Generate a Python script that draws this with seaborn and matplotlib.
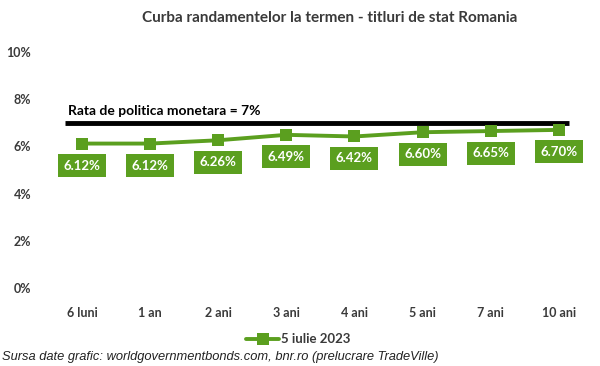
import matplotlib
matplotlib.use("Agg")
import matplotlib.pyplot as plt
import seaborn as sns
import pandas as pd

maturities = ["6 luni", "1 an", "2 ani", "3 ani", "4 ani", "5 ani", "7 ani", "10 ani"]
yields = [6.12, 6.12, 6.26, 6.49, 6.42, 6.60, 6.65, 6.70]
yield_labels = ["6.12%", "6.12%", "6.26%", "6.49%", "6.42%", "6.60%", "6.65%", "6.70%"]
series_name = "5 iulie 2023"
policy_rate = 7
policy_label = "Rata de politica monetara = 7%"
y_ticks = [0, 2, 4, 6, 8, 10]
title = "Curba randamentelor la termen - titluri de stat Romania"
source = "Sursa date grafic: worldgovernmentbonds.com, bnr.ro (prelucrare TradeVille)"

sns.set_theme(style="white")
plt.rcParams["font.family"] = ["Lato", "DejaVu Sans"]

GREEN = "#5b9f1f"
TXT = "#3a3a3a"

df = pd.DataFrame({"Maturitate": maturities, "Randament": yields, "Serie": series_name})

fig = plt.figure(figsize=(6, 3.66), dpi=100)
ax = fig.add_axes([0.08, 0.213, 0.908, 0.645])

sns.lineplot(data=df, x="Maturitate", y="Randament", hue="Serie", palette=[GREEN],
             marker="s", markersize=8, linewidth=2.8, markeredgewidth=0, ax=ax,
             sort=False)

ax.hlines(policy_rate, -0.25, 7.15, color="black", linewidth=3.5, zorder=1)
ax.text(-0.2, policy_rate + 0.25, policy_label, fontsize=10, fontweight="bold",
        color="black", ha="left", va="bottom")

for i, (v, lab) in enumerate(zip(yields, yield_labels)):
    ax.annotate(lab, (i, v), xytext=(0, -22), textcoords="offset pixels",
                ha="center", va="center", fontsize=9.5, fontweight="bold", color="white",
                bbox=dict(boxstyle="square,pad=0.42", fc=GREEN, ec="none"))

ax.set_xlim(-0.5, 7.5)
ax.set_ylim(0, 10)
ax.set_yticks(y_ticks)
ax.set_yticklabels([f"{t}%" for t in y_ticks])
ax.set_xlabel("")
ax.set_ylabel("")
for s in ax.spines.values():
    s.set_visible(False)
ax.tick_params(axis="both", length=0, labelsize=9, labelcolor=TXT)
ax.tick_params(axis="y", pad=12)
ax.tick_params(axis="x", pad=14)
for lbl in ax.get_xticklabels() + ax.get_yticklabels():
    lbl.set_fontweight("bold")

handles, labels = ax.get_legend_handles_labels()
ax.get_legend().remove()
leg = fig.legend(handles, labels, loc="center", bbox_to_anchor=(0.497, 0.073), frameon=False,
                 fontsize=9.5, handlelength=2.5, handletextpad=0.1, borderpad=0)
for t in leg.get_texts():
    t.set_fontweight("bold")
    t.set_color(TXT)

fig.text(0.55, 0.952, title, ha="center", va="center", fontsize=11, fontweight="bold", color=TXT)
fig.text(0.003, 0.024, source, ha="left", va="center", fontsize=9.3, style="italic",
         color="#222222", family=["Liberation Sans", "DejaVu Sans"])

fig.savefig("out.png", dpi=100)
